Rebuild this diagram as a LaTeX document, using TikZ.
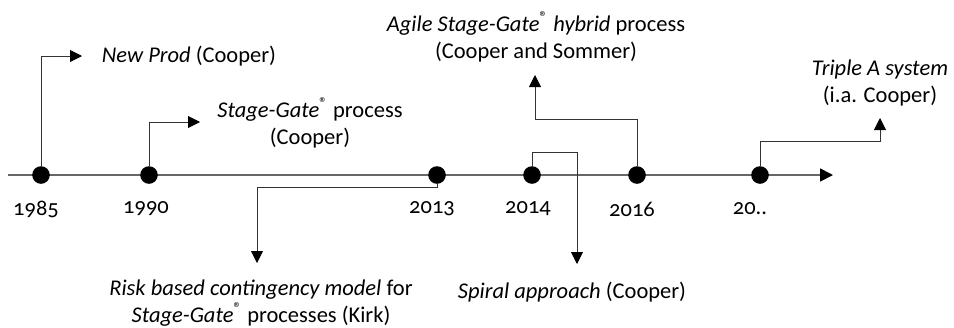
\documentclass[tikz,border=0pt]{standalone}
\usepackage{fontspec}
\setmainfont{Carlito}[Numbers=OldStyle]
\usetikzlibrary{arrows.meta}

\tikzset{
  dot/.style={circle, fill=black, inner sep=0pt, minimum size=4.4mm},
  year/.style={font=\fontsize{16}{19.2}\selectfont},
  event/.style={align=center, font=\fontsize{16}{19.2}\selectfont},
  conn/.style={draw=black!80, line width=0.6pt, -{Triangle[length=3mm,width=3mm,black]}},
  timeaxis/.style={draw=black!60, line width=1.2pt, -{Triangle[length=3.2mm,width=3.2mm,black]}}
}
\newcommand{\stagegate}{\textit{Stage-Gate}\textsuperscript{®}}

\begin{document}
\begin{tikzpicture}[x=0.25mm,y=-0.25mm]
\useasboundingbox (0,0) rectangle (954,327);

\coordinate (AxS) at (8,175);
\coordinate (AxE) at (833,175);
\draw[timeaxis](AxS) -- (AxE);

\node[dot](D85) at (41,175) {};
\node[dot](D90) at (149,175) {};
\node[dot](D13) at (437,175) {};
\node[dot](D14) at (532,175) {};
\node[dot](D16) at (637,175) {};
\node[dot](D20) at (760,175) {};

\node[year](Y85) at (36,209) {1985};
\node[year](Y90) at (146,209) {1990};
\node[year](Y13) at (432,209) {2013};
\node[year](Y14) at (528,209) {2014};
\node[year](Y16) at (632,209) {2016};
\node[year](Y20) at (750,209) {20..};

\node[event, anchor=west](L85) at (97,56) {\textit{New Prod} (Cooper)};
\node[event](L90) at (310,123) {\stagegate{} process\\(Cooper)};
\node[event](L13) at (261,303) {\textit{Risk based contingency model} for\\\stagegate{} processes (Kirk)};
\node[event](L14) at (572,292) {\textit{Spiral approach} (Cooper)};
\node[event](L16) at (536,37) {\textit{Agile} \stagegate{} \textit{hybrid} process\\(Cooper and Sommer)};
\node[event](L20) at (880,83) {\textit{Triple A system}\\(i.a. Cooper)};

\coordinate (T85) at (82,56);
\draw[conn](D85) |- (T85);
\coordinate (T90) at (200,122);
\draw[conn](D90) |- (T90);
\coordinate (B13) at (257,187);
\coordinate (T13) at (257,263);
\draw[conn](D13) |- (B13) -- (T13);
\coordinate (B14) at (577,152);
\coordinate (T14) at (577,264);
\draw[conn](D14) |- (B14) -- (T14);
\coordinate (B16) at (535,119);
\coordinate (T16) at (535,75);
\draw[conn](D16) |- (B16) -- (T16);
\coordinate (B20) at (880,141);
\coordinate (T20) at (880,118);
\draw[conn](D20) |- (B20) -- (T20);
\end{tikzpicture}
\end{document}
